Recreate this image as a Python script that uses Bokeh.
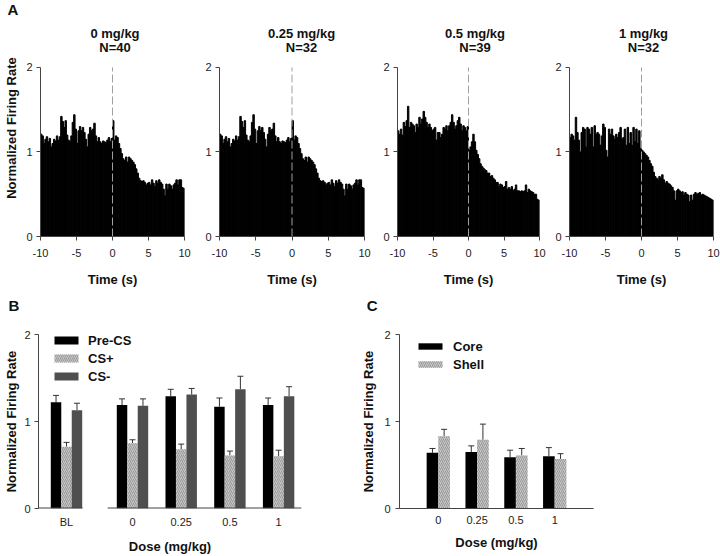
import numpy as np
from bokeh.plotting import figure
from bokeh.models import (Range1d, FixedTicker, Label, Legend, LegendItem,
                          ColumnDataSource, Whisker, TeeHead, Title)
from bokeh.layouts import row, column
from bokeh.embed import file_html
from bokeh.resources import INLINE

FONT = "Liberation Sans"

# ---------------- data ----------------
hist_titles = ["0 mg/kg", "0.25 mg/kg", "0.5 mg/kg", "1 mg/kg"]
hist_n = ["N=40", "N=32", "N=39", "N=32"]
time_ticks = [-10, -5, 0, 5, 10]
rate_ticks = [0, 1, 2]
onset = 0

rate_0mg = [1.21, 1.19, 1.10, 1.15, 1.18, 1.12, 1.16, 1.06, 1.10, 1.15,
            1.13, 1.19, 1.14, 1.18, 1.42, 1.36, 1.29, 1.37, 1.20, 1.14,
            1.12, 1.19, 1.35, 1.44, 1.27, 1.10, 1.25, 1.30, 1.25, 1.29,
            1.23, 1.15, 1.06, 1.21, 1.29, 1.25, 1.27, 1.34, 1.19, 1.12,
            1.17, 1.12, 1.10, 1.13, 1.12, 1.11, 1.14, 1.17, 1.12, 1.16,
            1.37, 1.14, 1.19, 1.17, 1.10, 1.04, 0.98, 0.92, 0.90, 0.94,
            0.88, 0.94, 0.92, 0.90, 0.88, 0.85, 0.80, 0.75, 0.69, 0.66,
            0.65, 0.66, 0.64, 0.61, 0.63, 0.64, 0.61, 0.67, 0.63, 0.59,
            0.66, 0.63, 0.67, 0.64, 0.62, 0.56, 0.48, 0.62, 0.56, 0.62,
            0.60, 0.56, 0.61, 0.63, 0.67, 0.61, 0.67, 0.67, 0.58, 0.57]
rate_025mg = [1.21, 1.19, 1.10, 1.15, 1.18, 1.12, 1.16, 1.06, 1.10, 1.15,
              1.13, 1.19, 1.14, 1.18, 1.42, 1.36, 1.29, 1.37, 1.20, 1.14,
              1.12, 1.19, 1.35, 1.44, 1.27, 1.10, 1.25, 1.30, 1.25, 1.29,
              1.23, 1.15, 1.06, 1.21, 1.29, 1.25, 1.27, 1.34, 1.19, 1.12,
              1.17, 1.12, 1.10, 1.13, 1.12, 1.11, 1.14, 1.17, 1.12, 1.16,
              1.37, 1.14, 1.19, 1.17, 1.10, 1.04, 0.98, 0.92, 0.90, 0.94,
              0.88, 0.94, 0.92, 0.90, 0.88, 0.85, 0.80, 0.75, 0.69, 0.66,
              0.65, 0.66, 0.64, 0.61, 0.63, 0.64, 0.61, 0.67, 0.63, 0.59,
              0.66, 0.63, 0.67, 0.64, 0.62, 0.56, 0.48, 0.62, 0.56, 0.62,
              0.60, 0.56, 0.61, 0.63, 0.67, 0.61, 0.67, 0.67, 0.58, 0.57]
rate_05mg = [1.25, 1.21, 1.27, 1.20, 1.35, 1.30, 1.37, 1.54, 1.29, 1.35,
             1.33, 1.31, 1.23, 1.33, 1.29, 1.41, 1.33, 1.39, 1.48, 1.41,
             1.35, 1.29, 1.33, 1.29, 1.25, 1.27, 1.29, 1.14, 1.23, 1.23,
             1.17, 1.21, 1.29, 1.27, 1.31, 1.25, 1.31, 1.35, 1.44, 1.35,
             1.27, 1.31, 1.37, 1.41, 1.33, 1.25, 1.31, 1.29, 1.25, 1.30,
             1.02, 1.06, 1.12, 1.21, 1.12, 1.02, 0.97, 0.92, 0.86, 0.83,
             0.81, 0.79, 0.78, 0.75, 0.75, 0.71, 0.72, 0.69, 0.67, 0.64,
             0.64, 0.59, 0.62, 0.61, 0.58, 0.59, 0.65, 0.56, 0.58, 0.56,
             0.59, 0.54, 0.56, 0.61, 0.54, 0.54, 0.53, 0.54, 0.53, 0.54,
             0.61, 0.52, 0.56, 0.54, 0.53, 0.52, 0.50, 0.50, 0.44, 0.43]
rate_1mg = [1.17, 1.21, 1.19, 1.14, 1.41, 1.23, 1.14, 1.00, 1.23, 1.29,
            1.27, 1.06, 1.29, 1.27, 1.21, 1.29, 1.06, 1.31, 1.21, 1.23,
            1.21, 1.08, 1.19, 1.33, 1.29, 1.02, 0.94, 1.27, 1.21, 1.27,
            1.19, 1.15, 1.21, 1.17, 1.23, 1.29, 1.15, 1.17, 1.27, 1.08,
            1.29, 1.10, 1.23, 1.08, 1.29, 1.12, 1.27, 1.10, 1.25, 1.04,
            1.02, 1.00, 0.98, 0.96, 0.94, 0.90, 0.86, 0.83, 0.76, 0.71,
            0.69, 0.67, 0.71, 0.69, 0.73, 0.67, 0.63, 0.65, 0.63, 0.62,
            0.60, 0.58, 0.54, 0.43, 0.54, 0.56, 0.54, 0.52, 0.53, 0.49,
            0.52, 0.50, 0.49, 0.41, 0.49, 0.43, 0.50, 0.52, 0.50, 0.51,
            0.52, 0.49, 0.50, 0.49, 0.48, 0.47, 0.46, 0.45, 0.44, 0.43]

# Panel B
b_groups = ["BL", "0", "0.25", "0.5", "1"]
b_precs = [1.22, 1.19, 1.29, 1.17, 1.19]
b_precs_err = [0.08, 0.07, 0.08, 0.10, 0.08]
b_csplus = [0.71, 0.75, 0.68, 0.61, 0.60]
b_csplus_err = [0.05, 0.04, 0.06, 0.05, 0.07]
b_csminus = [1.13, 1.18, 1.31, 1.37, 1.29]
b_csminus_err = [0.08, 0.08, 0.07, 0.15, 0.11]

# Panel C
c_doses = ["0", "0.25", "0.5", "1"]
c_core = [0.64, 0.65, 0.59, 0.60]
c_core_err = [0.05, 0.07, 0.08, 0.10]
c_shell = [0.83, 0.79, 0.61, 0.57]
c_shell_err = [0.08, 0.18, 0.08, 0.06]

# ---------------- styling helpers ----------------
AXIS_COL = "#444444"
TXT_COL = "#111111"
Y_MAX = rate_ticks[-1]


def style_axes(p, tick_standoff_y=4):
    p.grid.visible = False
    p.outline_line_color = None
    p.background_fill_color = "white"
    p.border_fill_color = "white"
    for ax in (p.xaxis[0], p.yaxis[0]):
        ax.axis_line_color = AXIS_COL
        ax.major_tick_line_color = AXIS_COL
        ax.minor_tick_line_color = None
        ax.major_tick_out = 4
        ax.major_tick_in = 0
        ax.major_label_text_font = FONT
        ax.major_label_text_font_size = "11px"
        ax.major_label_text_color = "#222222"
        ax.axis_label_text_font = FONT
        ax.axis_label_text_font_size = "13px"
        ax.axis_label_text_font_style = "bold"
        ax.axis_label_text_color = TXT_COL
    p.yaxis[0].major_label_standoff = tick_standoff_y
    p.yaxis[0].ticker = FixedTicker(ticks=rate_ticks)
    p.yaxis[0].bounds = (rate_ticks[0], rate_ticks[-1])


def letter_title(text, align, offset, standoff, valign):
    return Title(text=text, align=align, offset=offset, standoff=standoff,
                 vertical_align=valign, text_font=FONT, text_font_size="15px",
                 text_font_style="bold", text_color=TXT_COL)


# ---------------- top row: PSTHs ----------------
edges = np.linspace(-10, 10, 101)
centers = (edges[:-1] + edges[1:]) / 2
bw = edges[1] - edges[0]

rates = [rate_0mg, rate_025mg, rate_05mg, rate_1mg]
# (width, border_left, border_right) in px
top_layout = [(198, 40, 14), (182, 21, 16), (172, 14, 13), (168, 17, 7)]
title_dx = [2.5, 9.5, 6.5, 2.0]       # px offset of titles from t = 0
TOP_H, TOP_BT, TOP_BB = 322, 16, 84
PPU = 86.5                              # px per rate unit (y = 0..2 spans 173 px)
FRAME_TOP_VAL = (TOP_H - TOP_BB - TOP_BT) / PPU


def px_to_rate(py):
    return FRAME_TOP_VAL - (py - TOP_BT) / PPU


top_figs = []
for i, (vals, (w, bl, br)) in enumerate(zip(rates, top_layout)):
    p = figure(width=w, height=TOP_H, x_range=Range1d(-10, 10),
               y_range=Range1d(0, FRAME_TOP_VAL),
               output_backend="svg", toolbar_location=None,
               min_border_left=bl, min_border_right=br,
               min_border_top=TOP_BT, min_border_bottom=TOP_BB)
    p.vbar(x=centers, top=vals, width=bw, bottom=0, fill_color="black",
           line_color="black", line_width=1)
    p.segment(x0=[onset], x1=[onset], y0=[0], y1=[Y_MAX], line_color="#a0a0a0",
              line_dash="8 3", line_width=1)
    style_axes(p)
    p.xaxis[0].ticker = FixedTicker(ticks=time_ticks)
    p.xaxis[0].major_label_overrides = {t: str(t) for t in time_ticks}
    p.xaxis[0].major_label_standoff = 8
    p.xaxis[0].axis_label = "Time (s)"
    p.xaxis[0].axis_label_standoff = 12
    if i == 0:
        p.yaxis[0].axis_label = "Normalized Firing Rate"
        p.yaxis[0].axis_label_standoff = 4
        p.title.text = "A"
        p.title.align = "left"
        p.title.offset = -33
        p.title.standoff = 0
        p.title.vertical_align = "top"
        p.title.text_font = FONT
        p.title.text_font_size = "15px"
        p.title.text_font_style = "bold"
        p.title.text_color = TXT_COL
        # letter of panel B, below the time axis of this column
        p.add_layout(letter_title("B", "left", -32, 14, "top"), "below")
    if i == 1:
        # letter of panel C, below the time axis, right of this frame
        p.add_layout(letter_title("C", "right", -13, 14, "top"), "below")
    for txt, base_px in ((hist_titles[i], 30.0), (hist_n[i], 44.5)):
        p.add_layout(Label(x=onset, y=px_to_rate(base_px), x_offset=title_dx[i],
                           text=txt, text_font=FONT, text_font_size="13px",
                           text_font_style="bold", text_align="center",
                           text_baseline="alphabetic", text_color=TXT_COL))
    top_figs.append(p)

# ---------------- bottom row ----------------
BOT_H, BOT_BT, BOT_BB = 234, 12, 47

# Panel B
b_pos = [0.575, 1.93, 2.93, 3.93, 4.93]
b_end = 5.40
bw_b = 0.215
pB = figure(width=356, height=BOT_H, x_range=Range1d(0, b_end), y_range=Range1d(0, Y_MAX),
            output_backend="svg", toolbar_location=None,
            min_border_left=38, min_border_right=55,
            min_border_top=BOT_BT, min_border_bottom=BOT_BB)
style_axes(pB)
pos = np.array(b_pos)
hatch_kw = dict(fill_color="#c6c6c6", hatch_pattern="/", hatch_color="#8c8c8c",
                hatch_scale=4, hatch_weight=0.8)
series_b = [
    ("Pre-CS", b_precs, b_precs_err, -bw_b, dict(fill_color="black")),
    ("CS+", b_csplus, b_csplus_err, 0.0, hatch_kw),
    ("CS-", b_csminus, b_csminus_err, bw_b, dict(fill_color="#4f4f4f")),
]


def bars_with_errors(p, xs, vals, errs, width, kw):
    src = ColumnDataSource(dict(x=xs, top=vals, up=np.array(vals) + np.array(errs)))
    r = p.vbar(x="x", top="top", width=width, bottom=0, source=src,
               line_color=None, **kw)
    p.add_layout(Whisker(source=src, base="x", lower="top", upper="up",
                         dimension="height", line_color="#333333", line_width=1,
                         lower_head=None,
                         upper_head=TeeHead(size=6, line_color="#333333", line_width=1)))
    return r


b_items = []
for name, vals, errs, off, kw in series_b:
    r = bars_with_errors(pB, pos + off, vals, errs, bw_b, kw)
    b_items.append(LegendItem(label=name, renderers=[r]))

# broken x-axis line
pB.xaxis[0].axis_line_color = None
pB.xaxis[0].major_tick_line_color = None
pB.xaxis[0].major_tick_out = 0
pB.xaxis[0].ticker = FixedTicker(ticks=b_pos)
pB.xaxis[0].major_label_overrides = {p_: g for p_, g in zip(b_pos, b_groups)}
pB.xaxis[0].major_label_standoff = 7
pB.xaxis[0].axis_label = "Dose (mg/kg)"
pB.xaxis[0].axis_label_standoff = 8
pB.yaxis[0].axis_label = "Normalized Firing Rate"
pB.yaxis[0].axis_label_standoff = 2
pB.segment(x0=[0, b_pos[1] - 0.51], x1=[b_pos[0] + 0.33, b_end], y0=[0, 0], y1=[0, 0],
           line_color=AXIS_COL, line_width=2)

legB = Legend(items=b_items, location=(13, 123), glyph_width=30, glyph_height=10,
              label_height=18, spacing=0, padding=0, margin=0, label_standoff=7,
              border_line_color=None, background_fill_alpha=0,
              label_text_font=FONT, label_text_font_size="13px",
              label_text_font_style="bold", label_text_color=TXT_COL)
pB.add_layout(legB)

# Panel C
c_pos = [1, 2, 3, 4]
bw_c = 0.3
pC = figure(width=364, height=BOT_H, x_range=Range1d(0, 5), y_range=Range1d(0, Y_MAX),
            output_backend="svg", toolbar_location=None,
            min_border_left=43, min_border_right=127,
            min_border_top=BOT_BT, min_border_bottom=BOT_BB)
style_axes(pC, tick_standoff_y=5)
posc = np.array(c_pos, dtype=float)
series_c = [
    ("Core", c_core, c_core_err, -bw_c / 2, dict(fill_color="black")),
    ("Shell", c_shell, c_shell_err, bw_c / 2, hatch_kw),
]
c_items = []
for name, vals, errs, off, kw in series_c:
    r = bars_with_errors(pC, posc + off, vals, errs, bw_c, kw)
    c_items.append(LegendItem(label=name, renderers=[r]))

pC.xaxis[0].major_tick_line_color = None
pC.xaxis[0].major_tick_out = 0
pC.xaxis[0].ticker = FixedTicker(ticks=c_pos)
pC.xaxis[0].major_label_overrides = {p_: d for p_, d in zip(c_pos, c_doses)}
pC.xaxis[0].major_label_standoff = 7
pC.xaxis[0].axis_label = "Dose (mg/kg)"
pC.xaxis[0].axis_label_standoff = 8
pC.yaxis[0].axis_label = "Normalized Firing Rate"
pC.yaxis[0].axis_label_standoff = 5

legC = Legend(items=c_items, location=(16, 135), glyph_width=30, glyph_height=8,
              label_height=18, spacing=0, padding=0, margin=0, label_standoff=8,
              border_line_color=None, background_fill_alpha=0,
              label_text_font=FONT, label_text_font_size="13px",
              label_text_font_style="bold", label_text_color=TXT_COL)
pC.add_layout(legC)

layout = column(row(*top_figs, spacing=0), row(pB, pC, spacing=0), spacing=0)

open("out.html", "w").write(file_html(layout, INLINE))
